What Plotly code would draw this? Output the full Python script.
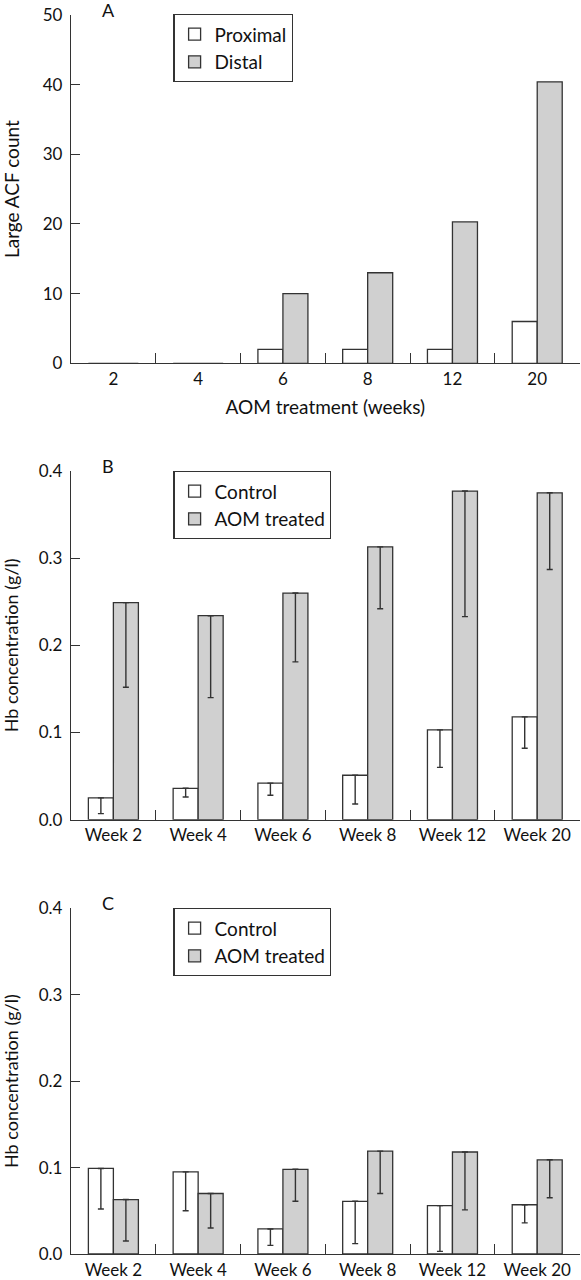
import plotly.graph_objects as go

W, H = 581, 1280

# ---------- data ----------
weeks_a = ["2", "4", "6", "8", "12", "20"]
proximal = [0, 0, 2, 2, 2, 6]
distal = [0, 0, 10, 13, 20.3, 40.4]

weeks_bc = ["Week 2", "Week 4", "Week 6", "Week 8", "Week 12", "Week 20"]
b_control = [0.025, 0.036, 0.042, 0.051, 0.103, 0.118]
b_control_low = [0.007, 0.026, 0.028, 0.018, 0.060, 0.082]
b_aom = [0.249, 0.234, 0.260, 0.313, 0.377, 0.375]
b_aom_low = [0.152, 0.140, 0.181, 0.242, 0.233, 0.287]

c_control = [0.099, 0.095, 0.029, 0.061, 0.056, 0.057]
c_control_low = [0.052, 0.050, 0.010, 0.012, 0.003, 0.036]
c_aom = [0.063, 0.070, 0.098, 0.119, 0.118, 0.109]
c_aom_low = [0.015, 0.030, 0.061, 0.070, 0.051, 0.065]

FONT = "Lato"
EDGE = "#333333"
GRAY = "#d0d0d0"
TXT = "#111"

def px_y(top, bottom):
    return [1 - bottom / H, 1 - top / H]

fig = go.Figure()

def err(vals, lows):
    return dict(type="data", symmetric=False, array=[0] * len(vals),
                arrayminus=[v - l for v, l in zip(vals, lows)],
                color=EDGE, thickness=1.4, width=3)

def mk(color):
    return dict(color=color, line=dict(color=EDGE, width=1.3))

# Panel A
fig.add_trace(go.Bar(x=weeks_a, y=proximal, name="Proximal", marker=mk("white"),
                     xaxis="x", yaxis="y", legend="legend"))
fig.add_trace(go.Bar(x=weeks_a, y=distal, name="Distal", marker=mk(GRAY),
                     xaxis="x", yaxis="y", legend="legend"))
# Panel B
fig.add_trace(go.Bar(x=weeks_bc, y=b_control, name="Control", marker=mk("white"),
                     error_y=err(b_control, b_control_low), xaxis="x2", yaxis="y2", legend="legend2"))
fig.add_trace(go.Bar(x=weeks_bc, y=b_aom, name="AOM treated", marker=mk(GRAY),
                     error_y=err(b_aom, b_aom_low), xaxis="x2", yaxis="y2", legend="legend2"))
# Panel C
fig.add_trace(go.Bar(x=weeks_bc, y=c_control, name="Control", marker=mk("white"),
                     error_y=err(c_control, c_control_low), xaxis="x3", yaxis="y3", legend="legend3"))
fig.add_trace(go.Bar(x=weeks_bc, y=c_aom, name="AOM treated", marker=mk(GRAY),
                     error_y=err(c_aom, c_aom_low), xaxis="x3", yaxis="y3", legend="legend3"))

xdom = [71 / W, 579.6 / W]
xcommon = dict(type="category", domain=xdom, showline=True, linecolor=EDGE, linewidth=1.3,
               ticks="inside", tickson="boundaries", ticklen=10, tickcolor=EDGE, tickwidth=1.3,
               showgrid=False, zeroline=False, automargin=False,
               tickfont=dict(family=FONT, size=17, color=TXT))
ycommon = dict(showline=True, linecolor=EDGE, linewidth=1.3, ticks="inside", ticklen=9,
               tickcolor=EDGE, tickwidth=1.3, showgrid=False, zeroline=False, automargin=False,
               tickfont=dict(family=FONT, size=17, color=TXT), ticklabelstandoff=4)

fig.update_layout(
    width=W, height=H, margin=dict(l=0, r=0, t=0, b=0),
    paper_bgcolor="white", plot_bgcolor="white",
    barmode="group", bargap=0.41, bargroupgap=0,
    font=dict(family=FONT, size=17, color=TXT),
    xaxis=dict(xcommon, anchor="y",
               title=dict(text="AOM treatment (weeks)", font=dict(family=FONT, size=19), standoff=12)),
    yaxis=dict(ycommon, domain=px_y(15, 363.3), anchor="x", range=[0, 50], dtick=10,
               title=dict(text="Large ACF count", font=dict(family=FONT, size=19), standoff=23)),
    xaxis2=dict(xcommon, anchor="y2"),
    yaxis2=dict(ycommon, domain=px_y(471, 819.7), anchor="x2", range=[0, 0.4], dtick=0.1, tickformat=".1f",
                title=dict(text="Hb concentration (g/l)", font=dict(family=FONT, size=18), standoff=19)),
    xaxis3=dict(xcommon, anchor="y3"),
    yaxis3=dict(ycommon, domain=px_y(908.3, 1254), anchor="x3", range=[0, 0.4], dtick=0.1, tickformat=".1f",
                title=dict(text="Hb concentration (g/l)", font=dict(family=FONT, size=18), standoff=19)),
)

leg = dict(xanchor="left", yanchor="top", bordercolor=EDGE, borderwidth=1.3, bgcolor="white",
           font=dict(family=FONT, size=19, color=TXT), traceorder="normal", itemclick=False)
fig.update_layout(
    legend=dict(leg, x=173.3 / W, y=1 - 14 / H),
    legend2=dict(leg, x=173.3 / W, y=1 - 471 / H),
    legend3=dict(leg, x=173.3 / W, y=1 - 908 / H),
)

for letter, ypx in [("A", 10), ("B", 466), ("C", 903)]:
    fig.add_annotation(text=letter, x=108 / W, y=1 - ypx / H, xref="paper", yref="paper",
                       showarrow=False, xanchor="center", yanchor="middle",
                       font=dict(family=FONT, size=18, color=TXT))

fig.write_html("out.html", config={"displayModeBar": False},
               post_script="document.body.style.margin='0';document.body.style.overflow='hidden';")
